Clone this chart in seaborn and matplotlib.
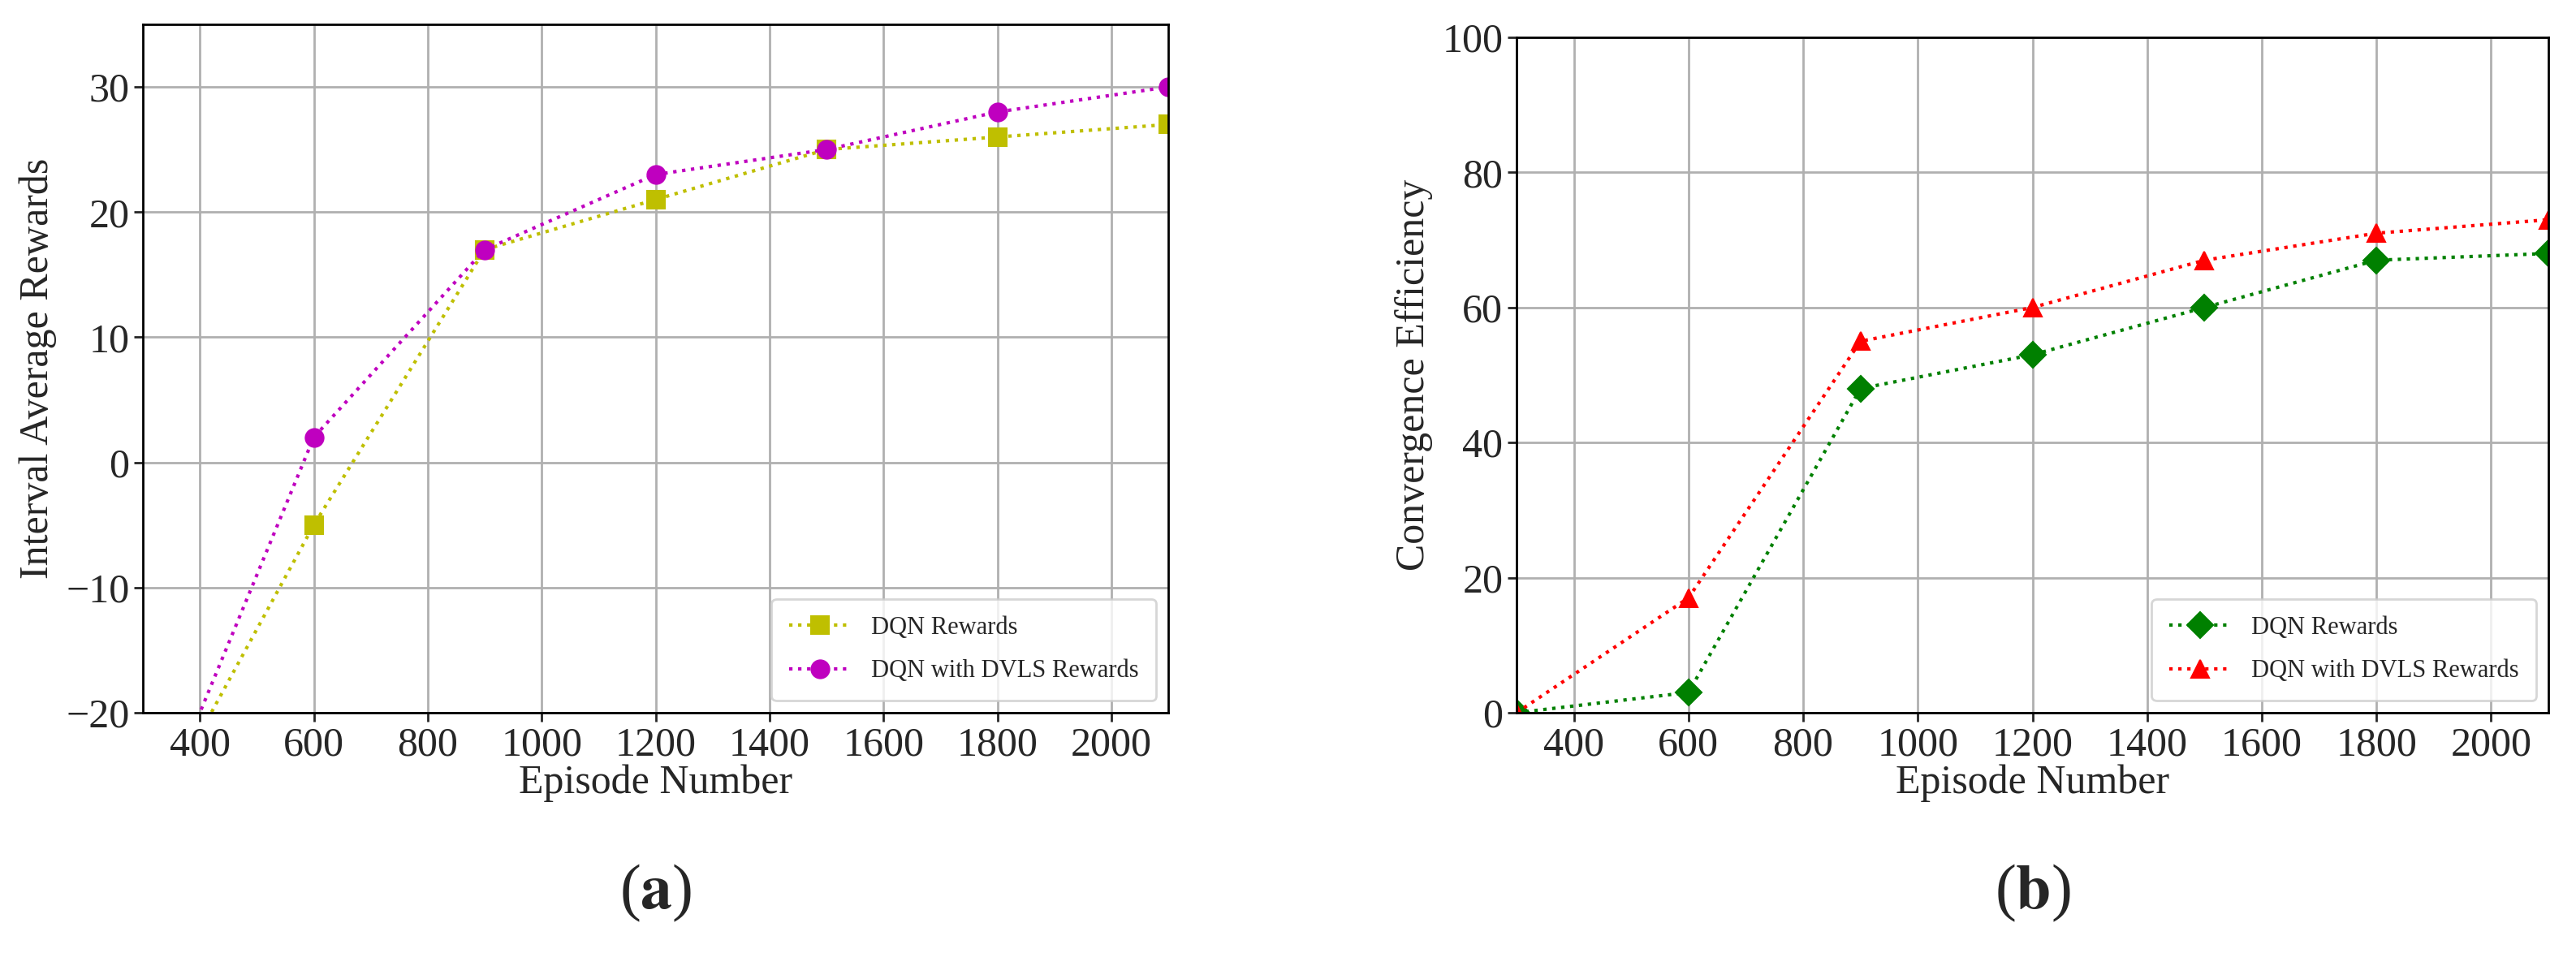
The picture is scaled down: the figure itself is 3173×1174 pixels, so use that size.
import numpy as np
import pandas as pd
import seaborn as sns
import matplotlib.pyplot as plt

# data
episodes = [300, 600, 900, 1200, 1500, 1800, 2100]
reward_dqn = [-30, -5, 17, 21, 25, 26, 27]
reward_dvls = [-31, 2, 17, 23, 25, 28, 30]
eff_dqn = [0, 3, 48, 53, 60, 67, 68]
eff_dvls = [0, 17, 55, 60, 67, 71, 73]
labels = ["DQN Rewards", "DQN with DVLS Rewards"]

sns.set_style("white")
plt.rcParams["font.family"] = ["Liberation Serif", "DejaVu Serif"]
plt.rcParams["mathtext.fontset"] = "stix"

fig = plt.figure(figsize=(15.865, 5.87), dpi=200)
ax1 = fig.add_axes([176 / 3173, 1 - 878 / 1174, (1439 - 176) / 3173, (878 - 30) / 1174])
ax2 = fig.add_axes([1868 / 3173, 1 - 878 / 1174, (3139 - 1868) / 3173, (878 - 46) / 1174])


def draw(ax, y1, y2, c1, c2, m1, m2, ylabel, ylim, xmin):
    sns.lineplot(x=episodes, y=y1, ax=ax, color=c1, marker=m1, linestyle=":",
                 markersize=8, markeredgecolor=c1, label=labels[0], lw=1.5)
    sns.lineplot(x=episodes, y=y2, ax=ax, color=c2, marker=m2, linestyle=":",
                 markersize=8, markeredgecolor=c2, label=labels[1], lw=1.5)
    ax.set_xlim(xmin, 2100)
    ax.set_ylim(*ylim)
    ax.set_xticks(range(400, 2100, 200))
    ax.grid(True, color="#b0b0b0", lw=1)
    ax.set_axisbelow(True)
    for s in ax.spines.values():
        s.set_color("black")
        s.set_linewidth(1)
    ax.tick_params(labelsize=18, direction="out", length=4, width=1,
                   bottom=True, left=True, pad=2)
    ax.set_xlabel("Episode Number", fontsize=18, labelpad=0)
    ax.set_ylabel(ylabel, fontsize=18, labelpad=4)
    ax.legend(loc="lower right", fontsize=11, frameon=True, borderpad=0.7,
              handlelength=2.5, labelspacing=0.8, edgecolor="#cccccc")


draw(ax1, reward_dqn, reward_dvls, "#bfbf00", "#bf00bf", "s", "o",
     "Interval Average Rewards", (-20, 35), 300)
ax1.set_yticks([-20, -10, 0, 10, 20, 30])
ax1.set_yticklabels(["\u221220", "\u221210", "0", "10", "20", "30"])
draw(ax2, eff_dqn, eff_dvls, "green", "red", "D", "^",
     "Convergence Efficiency", (0, 100), 300)
ax2.set_yticks([0, 20, 40, 60, 80, 100])

fig.text((176 + 1439) / 2 / 3173, 1 - 1100 / 1174, r"($\mathbf{a}$)", ha="center",
         va="center", fontsize=28)
fig.text((1868 + 3139) / 2 / 3173, 1 - 1100 / 1174, r"($\mathbf{b}$)", ha="center",
         va="center", fontsize=28)

fig.savefig("out.png", dpi=200)
